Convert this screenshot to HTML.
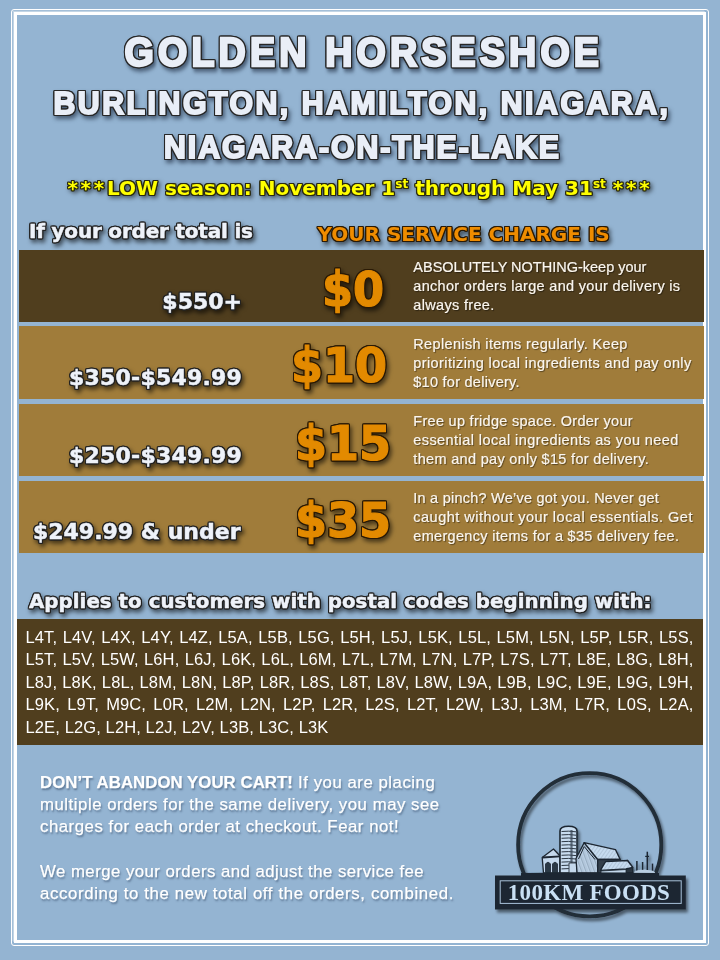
<!DOCTYPE html>
<html><head><meta charset="utf-8">
<style>
html,body{margin:0;padding:0;}
body{width:720px;height:960px;position:relative;overflow:hidden;background:#94b4d2;font-family:"Liberation Sans",sans-serif;}
.a{position:absolute;white-space:nowrap;line-height:1;}
.fr1{position:absolute;left:11px;top:9px;width:696px;height:935px;border:1px solid #fff;border-radius:3px;}
.fr2{position:absolute;left:14px;top:12px;width:686px;height:925px;border:3px solid #fff;box-shadow:-1px -1px 0 0 rgba(255,255,255,.35),-2px -2px 0 0 rgba(255,255,255,.15);}
.ttl{font-family:"Liberation Sans",sans-serif;font-weight:bold;color:#e9eef7;-webkit-text-stroke:1.6px #e9eef7;
 filter:drop-shadow(1px 0 0 #262626) drop-shadow(-1px 0 0 #262626) drop-shadow(0 1px 0 #262626) drop-shadow(0 -1px 0 #262626) drop-shadow(2px 3px 2px rgba(10,20,40,.55));}
.vb{font-family:"DejaVu Sans",sans-serif;font-weight:bold;}
.wt{color:#eef2f9;-webkit-text-stroke:.5px #eef2f9;filter:drop-shadow(1px 0 0 #222) drop-shadow(-1px 0 0 #222) drop-shadow(0 1px 0 #222) drop-shadow(0 -1px 0 #222) drop-shadow(2px 3px 2px rgba(0,0,0,.55));}
.yl{color:#ffff00;filter:drop-shadow(1px 0 0 #2a2a10) drop-shadow(-1px 0 0 #2a2a10) drop-shadow(0 1px 0 #2a2a10) drop-shadow(0 -1px 0 #2a2a10) drop-shadow(2px 2px 2px rgba(0,0,0,.5));}
.or{color:#ef8c00;filter:drop-shadow(1px 0 0 #2a1a05) drop-shadow(-1px 0 0 #2a1a05) drop-shadow(0 1px 0 #2a1a05) drop-shadow(0 -1px 0 #2a1a05) drop-shadow(2px 3px 2px rgba(0,0,0,.55));}
.row{position:absolute;left:19px;width:685px;}
.dk{background:#503e1e;}
.lt{background:#a07c3a;}
.desc{position:absolute;left:413.3px;font-size:14.5px;line-height:19px;color:#fbf6ee;-webkit-text-stroke:.2px #fbf6ee;text-shadow:1px 1px 1px rgba(0,0,0,.45);white-space:nowrap;}
.big{font-size:47.5px;transform:scaleX(.94);transform-origin:0 0;color:#e38a00;-webkit-text-stroke:1.2px #e38a00;}
.b2{transform:scaleX(.97);}
.pc{position:absolute;left:17px;top:619px;width:686px;height:126px;background:#503e1e;}
.pcl{position:absolute;left:8.5px;width:668px;font-size:16.5px;letter-spacing:.12px;line-height:22px;color:#fff;white-space:nowrap;}
.j{text-align:justify;text-align-last:justify;}
.bt{position:absolute;left:40px;font-size:16.8px;line-height:1;color:#fff;-webkit-text-stroke:.25px #fff;text-shadow:1px 2px 2px rgba(40,60,90,.55);white-space:nowrap;}
.ast{letter-spacing:2.7px;}
sup{font-size:60%;vertical-align:0;position:relative;top:-0.55em;}
</style></head><body>
<div class="fr1"></div>
<div class="fr2"></div>

<div class="a ttl" style="left:1px;width:726px;text-align:center;top:31.6px;font-size:40.5px;letter-spacing:4.45px;-webkit-text-stroke-width:2.4px;transform:scaleX(.93);transform-origin:361px 0;">GOLDEN HORSESHOE</div>
<div class="a ttl" style="left:0;width:724px;text-align:center;top:88px;font-size:31.8px;letter-spacing:2.69px;-webkit-text-stroke-width:2px;transform:scaleX(.95);transform-origin:362px 0;">BURLINGTON, HAMILTON, NIAGARA,</div>
<div class="a ttl" style="left:0;width:725px;text-align:center;top:132px;font-size:31.8px;letter-spacing:2.1px;-webkit-text-stroke-width:2px;transform:scaleX(.95);transform-origin:362.5px 0;">NIAGARA-ON-THE-LAKE</div>
<div class="a vb yl" style="left:0;width:717px;text-align:center;top:177.5px;font-size:20px;letter-spacing:0;"><span class="ast">***</span>LOW season: November 1<sup>st</sup> through May 31<sup>st</sup> <span class="ast">**</span>*</div>

<div class="a vb wt" style="left:29px;top:221px;font-size:20px;letter-spacing:-.2px;">If your order total is</div>
<div class="a vb or" style="left:317.5px;top:224px;font-size:20px;">YOUR SERVICE CHARGE IS</div>

<div class="row dk" style="top:250px;height:72px;"></div>
<div class="row lt" style="top:326px;height:73px;"></div>
<div class="row lt" style="top:404px;height:72px;"></div>
<div class="row lt" style="top:481px;height:72px;"></div>

<div class="a vb wt" style="right:478px;top:291px;font-size:22px;">$550+</div>
<div class="a vb wt" style="right:478px;top:367px;font-size:22px;letter-spacing:.2px;">$350-$549.99</div>
<div class="a vb wt" style="right:478px;top:445px;font-size:22px;letter-spacing:.2px;">$250-$349.99</div>
<div class="a vb wt" style="right:479.5px;top:520.5px;font-size:22px;">$249.99 &amp; under</div>

<div class="a vb or big" style="left:322px;top:266px;">$0</div>
<div class="a vb or big b2" style="left:290.5px;top:342px;">$10</div>
<div class="a vb or big b2" style="left:294.5px;top:420px;">$15</div>
<div class="a vb or big b2" style="left:294.5px;top:497px;">$35</div>


<div class="desc" style="top:257.9px;"><span style="letter-spacing:0.0px">ABSOLUTELY NOTHING-keep your</span><br><span style="letter-spacing:0.31px">anchor orders large and your delivery is</span><br><span style="letter-spacing:0.33px">always free.</span></div>
<div class="desc" style="top:335.2px;"><span style="letter-spacing:0.35px">Replenish items regularly. Keep</span><br><span style="letter-spacing:0.4px">prioritizing local ingredients and pay only</span><br><span style="letter-spacing:0.26px">$10 for delivery.</span></div>
<div class="desc" style="top:412.0px;"><span style="letter-spacing:0.29px">Free up fridge space. Order your</span><br><span style="letter-spacing:0.42px">essential local ingredients as you need</span><br><span style="letter-spacing:0.32px">them and pay only $15 for delivery.</span></div>
<div class="desc" style="top:489.0px;"><span style="letter-spacing:0.23px">In a pinch? We’ve got you. Never get</span><br><span style="letter-spacing:0.49px">caught without your local essentials. Get</span><br><span style="letter-spacing:0.31px">emergency items for a $35 delivery fee.</span></div>

<div class="a vb wt" style="left:29px;top:591.5px;font-size:19.8px;letter-spacing:.04px;">Applies to customers with postal codes beginning with:</div>

<div class="pc">
<div class="pcl j" style="top:7.0px;">L4T, L4V, L4X, L4Y, L4Z, L5A, L5B, L5G, L5H, L5J, L5K, L5L, L5M, L5N, L5P, L5R, L5S,</div>
<div class="pcl j" style="top:29.4px;">L5T, L5V, L5W, L6H, L6J, L6K, L6L, L6M, L7L, L7M, L7N, L7P, L7S, L7T, L8E, L8G, L8H,</div>
<div class="pcl j" style="top:51.8px;">L8J, L8K, L8L, L8M, L8N, L8P, L8R, L8S, L8T, L8V, L8W, L9A, L9B, L9C, L9E, L9G, L9H,</div>
<div class="pcl j" style="top:74.2px;">L9K, L9T, M9C, L0R, L2M, L2N, L2P, L2R, L2S, L2T, L2W, L3J, L3M, L7R, L0S, L2A,</div>
<div class="pcl" style="top:96.6px;">L2E, L2G, L2H, L2J, L2V, L3B, L3C, L3K</div>
</div>

<div class="bt" style="top:774.8px;letter-spacing:0.52px;"><b style="letter-spacing:.05px">DON’T ABANDON YOUR CART!</b> If you are placing</div>
<div class="bt" style="top:797.1px;letter-spacing:0.52px;">multiple orders for the same delivery, you may see</div>
<div class="bt" style="top:819.2px;letter-spacing:0.52px;">charges for each order at checkout. Fear not!</div>
<div class="bt" style="top:864.3px;letter-spacing:0.46px;">We merge your orders and adjust the service fee</div>
<div class="bt" style="top:885.7px;letter-spacing:0.63px;">according to the new total off the orders, combined.</div>


<svg class="logo" width="220" height="170" viewBox="480 760 220 170" style="position:absolute;left:480px;top:760px;overflow:visible">
<defs>
<filter id="sh" x="-10%" y="-10%" width="130%" height="140%"><feGaussianBlur in="SourceAlpha" stdDeviation="1.6"/><feOffset dx="2" dy="2.5" result="o"/><feComponentTransfer><feFuncA type="linear" slope=".5"/></feComponentTransfer><feMerge><feMergeNode/><feMergeNode in="SourceGraphic"/></feMerge></filter>
<pattern id="hx" width="3" height="3" patternUnits="userSpaceOnUse" patternTransform="rotate(35)"><rect width="3" height="3" fill="#c6dbef"/><line x1="0" y1="0" x2="0" y2="3" stroke="#7d90a4" stroke-width=".6"/></pattern>
<pattern id="hy" width="4" height="4" patternUnits="userSpaceOnUse" patternTransform="rotate(-20)"><rect width="4" height="4" fill="#bcd1e6"/><line x1="0" y1="0" x2="0" y2="4" stroke="#56687a" stroke-width=".7"/><line x1="2" y1="0" x2="2" y2="4" stroke="#8a9cb0" stroke-width=".4"/></pattern>
</defs>
<g filter="url(#sh)">
<circle cx="589.7" cy="844.8" r="71.6" fill="none" stroke="#222d39" stroke-width="3.8"/>
<g stroke="#1c2631" stroke-width="1.3" stroke-linejoin="round">
<path d="M542.2 857.5 L553.5 849 L560 856 L560 873 L543.5 873 Z" fill="#c4d8ec"/>
<path d="M542.5 857.5 L560 856.3" stroke-width="1.8"/>
<path d="M545.5 872.5 L545.5 864 Q548 860.5 550.5 864 L550.5 872.5 Z M552.5 872.5 L552.5 864 Q555 860.5 557.5 864 L557.5 872.5 Z" fill="#2b3744" stroke-width=".8"/>
<path d="M560 873 L560 831 Q560 826.3 568.5 826.3 Q577 826.3 577 831 L577 873 Z" fill="#c8dcef" stroke-width="1.6"/>
<g stroke-width=".9" fill="none"><path d="M561.5 831.5 q7 -0.8 14.5 0.3"/><path d="M561.5 834.9 q7 -0.8 14.5 0.3"/><path d="M561.5 838.3 q7 -0.8 14.5 0.3"/><path d="M561.5 841.7 q7 -0.8 14.5 0.3"/><path d="M561.5 845.1 q7 -0.8 14.5 0.3"/><path d="M561.5 848.5 q7 -0.8 14.5 0.3"/><path d="M561.5 851.9 q7 -0.8 14.5 0.3"/><path d="M561.5 855.3 q7 -0.8 14.5 0.3"/><path d="M561.5 858.7 q7 -0.8 14.5 0.3"/><path d="M561.5 862.1 q7 -0.8 14.5 0.3"/><path d="M561.5 865.5 q7 -0.8 14.5 0.3"/><path d="M561.5 868.9 q7 -0.8 14.5 0.3"/></g>
<path d="M571.5 830 L571.5 872" stroke="#3a4756" stroke-width="2.2" opacity=".75"/>
<path d="M569 863 L577 863 L577 873 L569 873 Z" fill="#c4d8ec" stroke-width=".8"/>
<path d="M576 858.5 L584.2 842.6 L597.7 859.5 L597.7 873 L577 873 Z" fill="url(#hy)"/>
<path d="M578.5 859 L584.2 846.5 L595 859.5" fill="none" stroke-width="1"/>
<path d="M584.2 842.6 L615.5 849.6 L620.2 859.5 L597.7 859.5 Z" fill="url(#hx)"/>
<path d="M597.7 859.5 L620.2 859.5 L620.2 873 L597.7 873 Z" fill="#34404c"/>
<path d="M620 862 L627.5 860.5 L632.7 867.3 L632.7 873 L620 873 Z" fill="#2a3540"/>
<path d="M600.4 870.4 L605.6 861.6 L627.5 860.5 L632.7 867.3 L626 869 Z" fill="url(#hx)"/>
<path d="M601 871 L626 869.5 L626 873 L601 873 Z" fill="#c4d8ec" stroke-width=".8"/>
</g>
<g stroke="#1c2631" stroke-width="1.5">
<line x1="636.9" y1="861" x2="636.9" y2="873"/><line x1="642.6" y1="862" x2="642.6" y2="873"/>
<line x1="647.3" y1="851.7" x2="647.3" y2="873"/><line x1="645.2" y1="856.4" x2="649" y2="856.4" stroke-width="1.2"/>
<line x1="652.5" y1="863.6" x2="652.5" y2="873"/>
</g>
<path d="M634 873 Q635 870 640 870 Q646 869.5 651 870.5 Q655 871 655 873 Z" fill="#b8cde2"/>
<path d="M521 873 Q560 872 659 873 L659 876 L521 876 Z" fill="#1c2631"/>
<rect x="495" y="875.5" width="190.8" height="34" fill="#1e2833"/>
</g>
<rect x="500.2" y="880.8" width="181" height="22.6" fill="none" stroke="#a9c2da" stroke-width="1"/>
<text x="589" y="899.7" text-anchor="middle" font-family="Liberation Serif, serif" font-weight="bold" font-size="23" letter-spacing=".3" fill="#c9e0f4">100KM FOODS</text>
</svg>
</body></html>
